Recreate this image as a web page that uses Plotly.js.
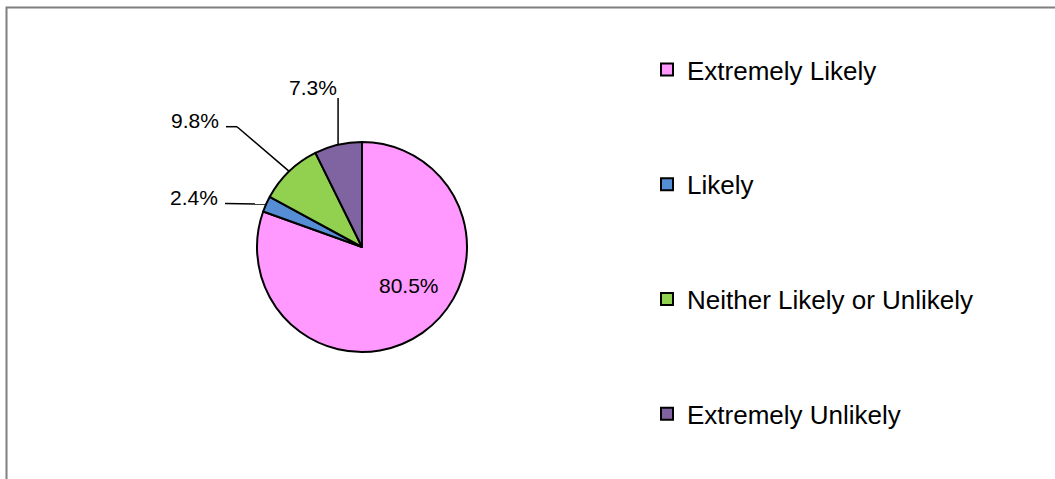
<!DOCTYPE html>
<html>
<head>
<meta charset="utf-8">
<script src="https://cdn.plot.ly/plotly-3.0.1.min.js"></script>
<style>
html,body{margin:0;padding:0;background:#fff;}
#chart{width:1055px;height:479px;}
</style>
</head>
<body>
<div id="chart"></div>
<script>
// ---- data ----
const categories = ['Extremely Likely', 'Likely', 'Neither Likely or Unlikely', 'Extremely Unlikely'];
const counts = [33, 1, 4, 3];
const colors = ['#FF99FF', '#558ED5', '#92D050', '#8064A2'];

// ---- layout constants (pixels) ----
const W = 1055, H = 479;
const CX = 362, CY = 247, R = 105;
const FONT = '"Liberation Sans", Arial, sans-serif';

const total = counts.reduce((a, b) => a + b, 0);
const pctText = counts.map(v => (v / total * 100).toFixed(1) + '%');

// mid-angle point on pie edge (clockwise from 12 o'clock)
function edgePoint(i) {
  let before = 0;
  for (let k = 0; k < i; k++) before += counts[k];
  const mid = (before + counts[i] / 2) / total * 2 * Math.PI;
  return [CX + R * Math.sin(mid), CY - R * Math.cos(mid)];
}
const px = x => x / W;
const py = y => 1 - y / H;

// label placement (style): text anchor and leader start points
const labelPlace = {
  0: {tx: 409, ty: 285, inside: true},
  1: {tx: 220, ty: 197, pts: [[225, 203.5]]},
  2: {tx: 221, ty: 121, pts: [[226, 126.7], [237, 126.7]]},
  3: {tx: 339, ty: 88, vertical: 98}
};

const annotations = [];
const shapes = [];
Object.keys(labelPlace).forEach(k => {
  const i = +k, o = labelPlace[k];
  annotations.push({
    xref: 'paper', yref: 'paper', x: px(o.tx), y: py(o.ty),
    xanchor: o.inside ? 'center' : 'right', yanchor: 'middle', showarrow: false,
    text: pctText[i], font: {family: FONT, size: 21, color: '#000'}
  });
  if (o.inside) return;
  const P = edgePoint(i);
  const pts = o.vertical !== undefined ? [[P[0], o.vertical], P] : o.pts.concat([P]);
  for (let s = 0; s < pts.length - 1; s++) {
    shapes.push({
      type: 'line', xref: 'paper', yref: 'paper',
      x0: px(pts[s][0]), y0: py(pts[s][1]), x1: px(pts[s + 1][0]), y1: py(pts[s + 1][1]),
      line: {color: '#000', width: 1.5}
    });
  }
});

// chart frame
shapes.push({
  type: 'rect', xref: 'paper', yref: 'paper', layer: 'above',
  x0: px(6.5), x1: 1.05, y0: -0.05, y1: py(7.5),
  line: {color: '#7f7f7f', width: 2}
});

const pie = {
  type: 'pie',
  labels: categories,
  values: counts,
  sort: false,
  direction: 'clockwise',
  rotation: 0,
  marker: {colors: colors, line: {color: '#000', width: 2}},
  textinfo: 'none',
  domain: {x: [px(CX - R), px(CX + R)], y: [py(CY + R), py(CY - R)]},
  showlegend: false,
  hoverinfo: 'label+percent'
};

const legendTraces = categories.map((c, i) => ({
  type: 'scatter', x: [null], y: [null], mode: 'markers',
  name: c, legendgroup: 'g' + i,
  marker: {symbol: 'square', size: 12, color: colors[i], line: {color: '#000', width: 2}},
  hoverinfo: 'skip'
}));

const layout = {
  width: W, height: H,
  margin: {l: 0, r: 0, t: 0, b: 0},
  paper_bgcolor: '#fff', plot_bgcolor: '#fff',
  font: {family: FONT, color: '#000'},
  xaxis: {visible: false}, yaxis: {visible: false},
  showlegend: true,
  legend: {
    x: px(647), xanchor: 'left', y: py(46), yanchor: 'top',
    font: {family: FONT, size: 26, color: '#000'},
    traceorder: 'grouped', tracegroupgap: 78,
    bgcolor: 'rgba(0,0,0,0)', borderwidth: 0
  },
  annotations: annotations,
  shapes: shapes
};

Plotly.newPlot('chart', [pie].concat(legendTraces), layout, {displayModeBar: false, staticPlot: true});
</script>
</body>
</html>
